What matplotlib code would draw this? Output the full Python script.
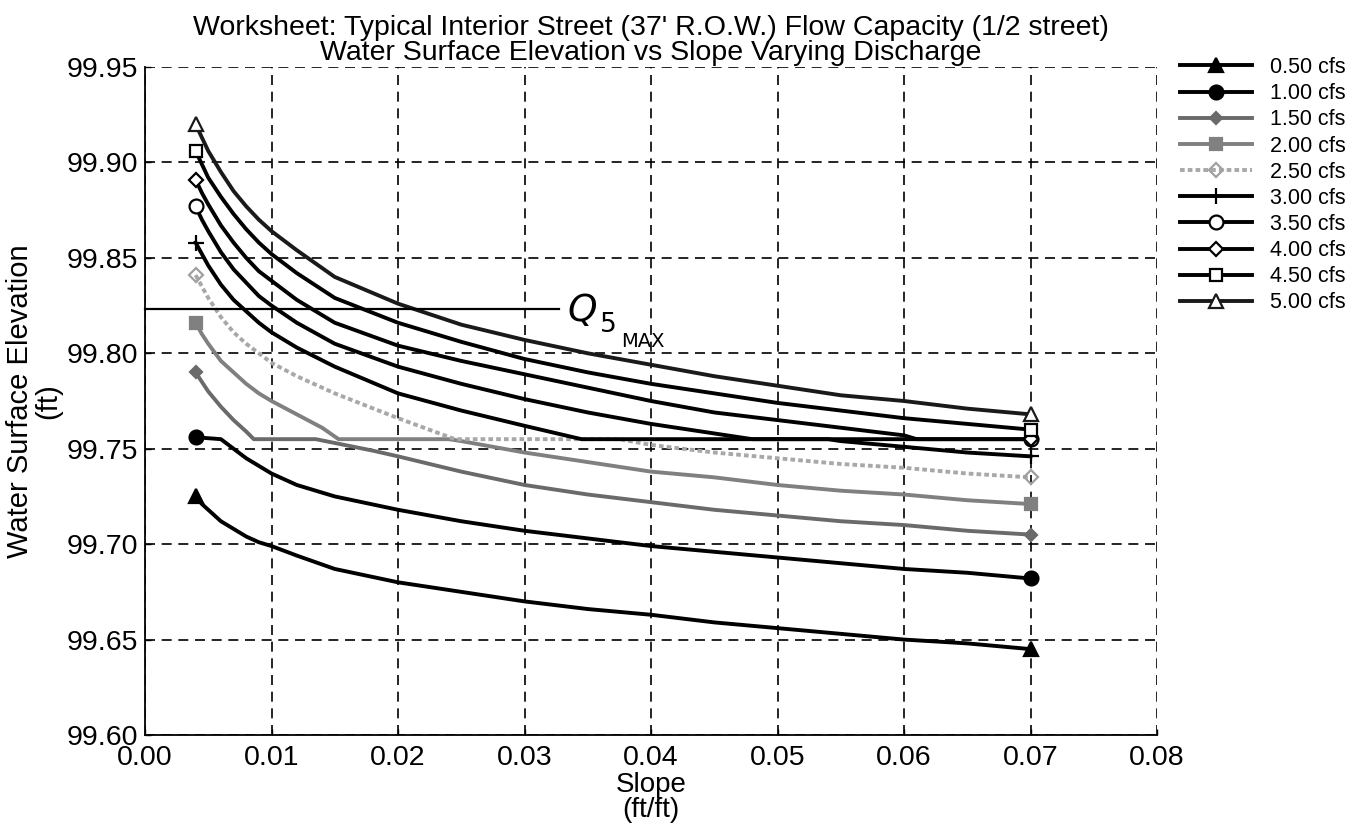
import matplotlib
matplotlib.use("Agg")
import matplotlib.pyplot as plt
from matplotlib.lines import Line2D

plt.rcParams['font.family'] = ['Liberation Sans', 'DejaVu Sans']

# ---- data (slope ft/ft, water surface elevation ft) ----
labels = ["0.50 cfs", "1.00 cfs", "1.50 cfs", "2.00 cfs", "2.50 cfs",
          "3.00 cfs", "3.50 cfs", "4.00 cfs", "4.50 cfs", "5.00 cfs"]

s_050 = [0.004, 0.0045, 0.005, 0.006, 0.007, 0.008, 0.009, 0.010, 0.012, 0.015, 0.020, 0.025, 0.030, 0.035, 0.040, 0.045, 0.050, 0.055, 0.060, 0.065, 0.070]
w_050 = [99.725, 99.721, 99.718, 99.712, 99.708, 99.704, 99.701, 99.699, 99.694, 99.687, 99.680, 99.675, 99.670, 99.666, 99.663, 99.659, 99.656, 99.653, 99.650, 99.648, 99.645]

s_100 = [0.004, 0.006, 0.007, 0.008, 0.009, 0.010, 0.012, 0.015, 0.020, 0.025, 0.030, 0.035, 0.040, 0.045, 0.050, 0.055, 0.060, 0.065, 0.070]
w_100 = [99.756, 99.755, 99.750, 99.745, 99.741, 99.737, 99.731, 99.725, 99.718, 99.712, 99.707, 99.703, 99.699, 99.696, 99.693, 99.690, 99.687, 99.685, 99.682]

s_150 = [0.004, 0.0045, 0.005, 0.006, 0.007, 0.008, 0.0086, 0.0135, 0.015, 0.018, 0.020, 0.025, 0.030, 0.035, 0.040, 0.045, 0.050, 0.055, 0.060, 0.065, 0.070]
w_150 = [99.790, 99.785, 99.780, 99.772, 99.765, 99.759, 99.755, 99.755, 99.753, 99.749, 99.746, 99.738, 99.731, 99.726, 99.722, 99.718, 99.715, 99.712, 99.710, 99.707, 99.705]

s_200 = [0.004, 0.0045, 0.005, 0.006, 0.007, 0.008, 0.009, 0.010, 0.012, 0.014, 0.0153, 0.024, 0.025, 0.030, 0.035, 0.040, 0.045, 0.050, 0.055, 0.060, 0.065, 0.070]
w_200 = [99.816, 99.810, 99.805, 99.796, 99.790, 99.784, 99.779, 99.775, 99.768, 99.761, 99.755, 99.755, 99.754, 99.748, 99.743, 99.738, 99.735, 99.731, 99.728, 99.726, 99.723, 99.721]

s_250 = [0.004, 0.0045, 0.005, 0.006, 0.007, 0.008, 0.009, 0.010, 0.012, 0.015, 0.020, 0.0245, 0.0375, 0.040, 0.045, 0.050, 0.055, 0.060, 0.065, 0.070]
w_250 = [99.841, 99.835, 99.829, 99.819, 99.811, 99.805, 99.800, 99.795, 99.788, 99.779, 99.766, 99.755, 99.755, 99.752, 99.748, 99.745, 99.742, 99.740, 99.737, 99.735]

s_300 = [0.004, 0.0045, 0.005, 0.006, 0.007, 0.008, 0.009, 0.010, 0.012, 0.015, 0.020, 0.025, 0.030, 0.0345, 0.054, 0.055, 0.060, 0.065, 0.070]
w_300 = [99.858, 99.852, 99.846, 99.836, 99.828, 99.822, 99.816, 99.811, 99.803, 99.793, 99.779, 99.770, 99.762, 99.755, 99.755, 99.754, 99.751, 99.748, 99.746]

s_350 = [0.004, 0.0045, 0.005, 0.006, 0.007, 0.008, 0.009, 0.010, 0.012, 0.015, 0.020, 0.025, 0.030, 0.035, 0.040, 0.045, 0.048, 0.070]
w_350 = [99.877, 99.870, 99.864, 99.853, 99.844, 99.837, 99.830, 99.825, 99.816, 99.805, 99.793, 99.784, 99.776, 99.769, 99.763, 99.758, 99.755, 99.755]

s_400 = [0.004, 0.0045, 0.005, 0.006, 0.007, 0.008, 0.009, 0.010, 0.012, 0.015, 0.020, 0.025, 0.030, 0.035, 0.040, 0.045, 0.050, 0.055, 0.060, 0.061, 0.070]
w_400 = [99.891, 99.884, 99.878, 99.867, 99.858, 99.850, 99.843, 99.838, 99.828, 99.816, 99.804, 99.796, 99.789, 99.782, 99.775, 99.769, 99.765, 99.761, 99.757, 99.755, 99.755]

s_450 = [0.004, 0.0045, 0.005, 0.006, 0.007, 0.008, 0.009, 0.010, 0.012, 0.015, 0.020, 0.025, 0.030, 0.035, 0.040, 0.045, 0.050, 0.055, 0.060, 0.065, 0.070]
w_450 = [99.906, 99.899, 99.892, 99.882, 99.873, 99.865, 99.858, 99.852, 99.842, 99.829, 99.816, 99.806, 99.797, 99.790, 99.784, 99.779, 99.774, 99.770, 99.766, 99.763, 99.760]

s_500 = [0.004, 0.0045, 0.005, 0.006, 0.007, 0.008, 0.009, 0.010, 0.012, 0.015, 0.020, 0.025, 0.030, 0.035, 0.040, 0.045, 0.050, 0.055, 0.060, 0.065, 0.070]
w_500 = [99.920, 99.913, 99.906, 99.895, 99.885, 99.877, 99.870, 99.864, 99.854, 99.840, 99.826, 99.815, 99.807, 99.800, 99.794, 99.788, 99.783, 99.778, 99.775, 99.771, 99.768]

series_s = [s_050, s_100, s_150, s_200, s_250, s_300, s_350, s_400, s_450, s_500]
series_w = [w_050, w_100, w_150, w_200, w_250, w_300, w_350, w_400, w_450, w_500]

qmax_wse = 99.823
qmax_end = 0.0327

x_ticks = [0.00, 0.01, 0.02, 0.03, 0.04, 0.05, 0.06, 0.07, 0.08]
y_ticks = [99.60, 99.65, 99.70, 99.75, 99.80, 99.85, 99.90, 99.95]

# ---- styles ----
styles = [
    dict(color='black', ls='-', marker='^', ms=10, mfc='black', mec='black'),
    dict(color='black', ls='-', marker='o', ms=10, mfc='black', mec='black'),
    dict(color='#6a6a6a', ls='-', marker='D', ms=6, mfc='#6a6a6a', mec='#6a6a6a'),
    dict(color='#808080', ls='-', marker='s', ms=8, mfc='#808080', mec='#808080'),
    dict(color='#a8a8a8', ls=(0, (1.2, 0.8)), marker='D', ms=7, mfc='none', mec='#a0a0a0'),
    dict(color='black', ls='-', marker='+', ms=11, mfc='black', mec='black'),
    dict(color='black', ls='-', marker='o', ms=10, mfc='white', mec='black'),
    dict(color='black', ls='-', marker='D', ms=7, mfc='white', mec='black'),
    dict(color='black', ls='-', marker='s', ms=9, mfc='white', mec='black'),
    dict(color='#1a1a1a', ls='-', marker='^', ms=10, mfc='white', mec='#1a1a1a'),
]

fig = plt.figure(figsize=(13.64, 8.31), dpi=100)
ax = fig.add_axes([145/1364, 1 - 735/831, (1157-145)/1364, (735-67)/831])

LW = 2.8
for s, w, st in zip(series_s, series_w, styles):
    ax.plot(s, w, color=st['color'], ls=st['ls'], lw=LW, solid_joinstyle='round',
            marker=st['marker'], ms=st['ms'], mfc=st['mfc'], mec=st['mec'],
            mew=1.6, markevery=[0, len(s) - 1], zorder=3)

ax.set_xlim(0.0, 0.08)
ax.set_ylim(99.60, 99.95)
ax.set_xticks(x_ticks)
ax.set_yticks(y_ticks)
ax.set_xticklabels([f"{v:.2f}" for v in x_ticks])
ax.set_yticklabels([f"{v:.2f}" for v in y_ticks])
ax.tick_params(axis='both', labelsize=20.5, direction='in', length=4, width=1)
ax.tick_params(axis='x', pad=7)
ax.tick_params(axis='y', pad=5)
ax.grid(True, color='black', ls=(0, (6, 4)), lw=1.2, zorder=1)
for side in ['top', 'right']:
    ax.spines[side].set_visible(False)
for side in ['left', 'bottom']:
    ax.spines[side].set_linewidth(1.3)

ax.set_xlabel("Slope\n(ft/ft)", fontsize=20, linespacing=0.95, labelpad=1)
ax.set_ylabel("Water Surface Elevation\n(ft)", fontsize=21, linespacing=1.0, labelpad=3)
ax.set_title("Worksheet: Typical Interior Street (37' R.O.W.) Flow Capacity (1/2 street)\n"
             "Water Surface Elevation vs Slope Varying Discharge",
             fontsize=20.5, linespacing=0.95, pad=5)

# handwritten Q5 MAX annotation
ax.plot([0.0, qmax_end], [qmax_wse, qmax_wse], color='black', lw=1.6, zorder=4, clip_on=False)
ax.text(0.0334, 99.822, "Q", fontsize=27, style='italic', va='center', ha='left',
        family=['DejaVu Sans'])
ax.text(0.0360, 99.815, "5", fontsize=19, va='center', ha='left', family=['DejaVu Sans'])
ax.text(0.0376, 99.806, "MAX", fontsize=14, va='center', ha='left', family=['DejaVu Sans'])

# legend with proxy handles
handles = [Line2D([], [], color=st['color'], ls=st['ls'], lw=LW, marker=st['marker'],
                  ms=st['ms'], mfc=st['mfc'], mec=st['mec'], mew=1.6) for st in styles]
fig.legend(handles, labels, loc='upper left', bbox_to_anchor=(1180/1364, 1 - 57/831),
           frameon=False, fontsize=15.5, handlelength=3.35, handletextpad=0.85,
           labelspacing=0.24, borderpad=0, borderaxespad=0, numpoints=1)

fig.savefig("out.png", dpi=100)
